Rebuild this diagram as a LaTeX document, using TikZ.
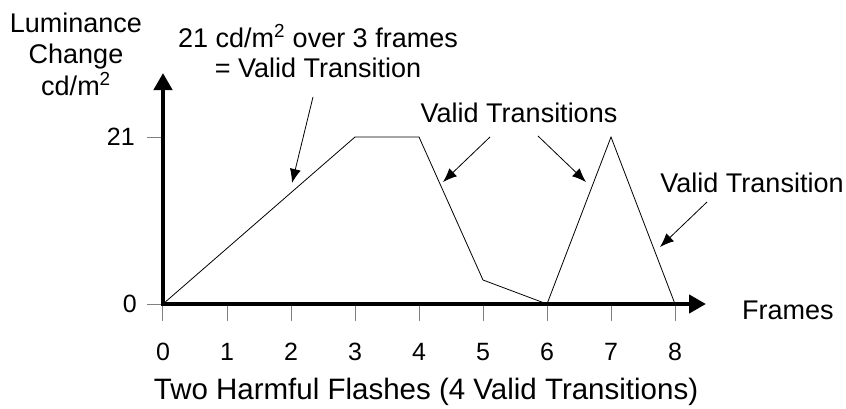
\documentclass[tikz,border=0pt]{standalone}
\usepackage{fontspec}
\setmainfont{Liberation Sans}
\usetikzlibrary{
  arrows.meta, % for the axis and pointer heads
  positioning,
}
\tikzset{
  axis/.style={line width=4.5pt, -{Triangle[length=17pt, width=18pt]}},
  tick/.style={gray, line width=1pt},
  curve/.style={line width=0.8pt},
  pointer/.style={line width=0.8pt, -{Latex[length=14pt, width=11pt]}},
  ticklabel/.style={inner sep=0pt, font=\fontsize{25}{30}\selectfont},
  note/.style={inner sep=0pt, font=\fontsize{27}{32}\selectfont},
}

\begin{document}
\begin{tikzpicture}[x=1pt, y=1pt]
  \useasboundingbox (-163,-104) rectangle (683,304);

  % ticks and their labels
  \foreach \f in {0,...,8} {
    \draw [tick] (64*\f,0) -- (64*\f,-17);
    \node [ticklabel, anchor=base] (f\f) at (64*\f,-56) {\f};
  }
  \draw [tick] (0,0) -- (-16,0);
  \draw [tick] (0,167) -- (-16,167);
  \node [ticklabel, anchor=east] (v0) at (-26,0) {0};
  \node [ticklabel, anchor=east] (v21) at (-28,167) {21};

  % luminance over the frames
  \coordinate (p0) at (0,0);
  \coordinate (p3) at (192,167);
  \coordinate (p4) at (256,167);
  \coordinate (p5) at (320,24);
  \coordinate (p6) at (384,0);
  \coordinate (p7) at (448,167);
  \coordinate (p8) at (512,0);
  \draw [curve] (p0) -- (p3) -- (p4) -- (p5) -- (p6) -- (p7) -- (p8);

  % axes
  \coordinate (o) at (0,0);
  \coordinate (xend) at (543,0);
  \coordinate (yend) at (0,231);
  \draw [axis] ([xshift=-2.25pt]o) -- (xend);
  \draw [axis] ([yshift=-2.25pt]o) -- (yend);
  \node [note, anchor=base west] (xlab) at (579,-15) {Frames};
  \node [note, anchor=base] (lum) at (-87,272) {Luminance};
  \node [note, anchor=base] (chg) at (-87,241) {Change};
  \node [note, anchor=base] (unit) at (-87,209) {cd/m\textsuperscript{2}};

  % notes
  \node [note, anchor=base] (slopeA) at (155,257) {21 cd/m\textsuperscript{2} over 3 frames};
  \node [note, anchor=base] (slopeB) at (155,227) {= Valid Transition};
  \node [note, anchor=base] (pair) at (356,182) {Valid Transitions};
  \node [note, anchor=base] (single) at (589,112) {Valid Transition};

  \coordinate (slopeFrom) at (150,207);
  \coordinate (slopeTo) at (129,121);
  \coordinate (pairFromL) at (327,167);
  \coordinate (pairToL) at (280,122);
  \coordinate (pairFromR) at (375,168);
  \coordinate (pairToR) at (423,122);
  \coordinate (singleFrom) at (544,102);
  \coordinate (singleTo) at (497,57);
  \draw [pointer] (slopeFrom) -- (slopeTo);
  \draw [pointer] (pairFromL) -- (pairToL);
  \draw [pointer] (pairFromR) -- (pairToR);
  \draw [pointer] (singleFrom) -- (singleTo);

  \node [inner sep=0pt, anchor=base, font=\fontsize{29.5}{35}\selectfont] (caption) at (263,-95)
    {Two Harmful Flashes (4 Valid Transitions)};
\end{tikzpicture}
\end{document}
